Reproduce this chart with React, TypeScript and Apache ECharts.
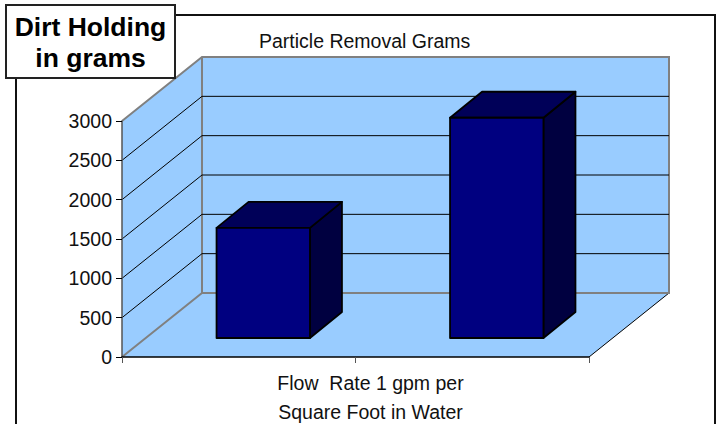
import React, { useEffect, useRef } from "react";
import * as echarts from "echarts";

const categories = ["", ""];
const particleRemovalGrams = [1400, 2800];
const gridValues = [0, 500, 1000, 1500, 2000, 2500, 3000];
const chartTitle = "Particle Removal Grams";
const boxTitleLines = ["Dirt Holding", "in grams"];
const xAxisTitle = "Flow  Rate 1 gpm per\nSquare Foot in Water";

const FONT = '"Liberation Sans", Arial, sans-serif';
const WALL = "#99CCFF";
const EDGE = "#808080";
const FRONT = "#000080";
const TOP = "#000058";
const SIDE = "#000040";
const DEPTH_X = 80;
const DEPTH_Y = -64;

export default function App() {
  const ref = useRef<HTMLDivElement>(null);
  useEffect(() => {
    document.body.style.margin = "0";
    const chart = echarts.init(ref.current!, undefined, { renderer: "svg" });

    const renderWalls = (params: any, api: any) => {
      const cs = params.coordSys;
      const v = api.value(1);
      const y = api.coord([0, v])[1];
      const l = cs.x, r = cs.x + cs.width, t = cs.y, b = cs.y + cs.height;
      const dx = DEPTH_X, dy = DEPTH_Y;
      const children: any[] = [];
      const line = (points: number[][], stroke: string, lineWidth: number) => ({
        type: "polyline",
        shape: { points },
        style: { fill: "none", stroke, lineWidth },
      });
      if (params.dataIndex === 0) {
        const fill = (points: number[][]) => ({ type: "polygon", shape: { points }, style: { fill: WALL } });
        children.push(fill([[l + dx, t + dy], [r + dx, t + dy], [r + dx, b + dy], [l + dx, b + dy]]));
        children.push(fill([[l, t], [l + dx, t + dy], [l + dx, b + dy], [l, b]]));
        children.push(fill([[l, b], [l + dx, b + dy], [r + dx, b + dy], [r, b]]));
        children.push(line([[r, b], [r + dx, b + dy]], "#000", 1));
        children.push(line([[l, b], [l + dx, b + dy], [r + dx, b + dy], [r + dx, t + dy], [l + dx, t + dy], [l, t]], EDGE, 2));
        children.push(line([[l + dx, t + dy], [l + dx, b + dy]], EDGE, 2));
      } else if (v < 3000) {
        children.push(line([[l, y], [l + dx, y + dy], [r + dx, y + dy]], "#000", 1));
      }
      return { type: "group", children };
    };

    const renderBar = (_params: any, api: any) => {
      const idx = api.value(0);
      const top = api.coord([idx, api.value(1)]);
      const base = api.coord([idx, 0]);
      const w = api.size([1, 0])[0] * 0.4;
      const fx = 24.5, fy = -19, bx = 56.5, by = -45;
      const x0 = top[0] - w / 2 + fx, x1 = top[0] + w / 2 + fx;
      const yt = top[1] + fy, yb = base[1] + fy;
      const ddx = bx - fx, ddy = by - fy;
      const style = (fill: string) => ({ fill, stroke: "#000", lineWidth: 1.8, lineJoin: "round" });
      return {
        type: "group",
        children: [
          { type: "polygon", shape: { points: [[x1, yt], [x1 + ddx, yt + ddy], [x1 + ddx, yb + ddy], [x1, yb]] }, style: style(SIDE) },
          { type: "polygon", shape: { points: [[x0, yt], [x0 + ddx, yt + ddy], [x1 + ddx, yt + ddy], [x1, yt]] }, style: style(TOP) },
          { type: "polygon", shape: { points: [[x0, yt], [x1, yt], [x1, yb], [x0, yb]] }, style: style(FRONT) },
        ],
      };
    };

    chart.setOption({
      animation: false,
      backgroundColor: "#fff",
      title: {
        text: chartTitle,
        left: 259,
        top: 31,
        padding: 0,
        textStyle: { fontFamily: FONT, fontSize: 19.5, fontWeight: "normal", color: "#111" },
      },
      grid: { left: 122, top: 121, width: 467, height: 236, outerBoundsMode: "none", containLabel: false },
      xAxis: {
        type: "category",
        data: categories,
        z: 10,
        name: xAxisTitle,
        nameLocation: "middle",
        nameGap: 11,
        nameTextStyle: {
          fontFamily: FONT,
          fontSize: 19.5,
          color: "#111",
          lineHeight: 29,
          padding: [0, 0, 0, 30],
          verticalAlign: "top",
        },
        axisLine: { lineStyle: { color: "#000", width: 1.5 } },
        axisTick: { show: true, alignWithLabel: false, length: 6, lineStyle: { color: "#555", width: 1 } },
        axisLabel: { show: false },
        splitLine: { show: false },
      },
      yAxis: {
        type: "value",
        min: 0,
        max: 3000,
        interval: 500,
        z: 10,
        axisLine: { show: true, lineStyle: { color: "#555", width: 1.5 } },
        axisTick: { show: true, length: 6, lineStyle: { color: "#000", width: 1 } },
        axisLabel: { fontFamily: FONT, fontSize: 19.5, color: "#111", margin: 10, formatter: (v: number) => String(v) },
        splitLine: { show: false },
      },
      series: [
        {
          type: "custom",
          silent: true,
          z: 1,
          renderItem: renderWalls,
          data: gridValues.map((v) => [0, v]),
          encode: { x: 0, y: 1 },
        },
        {
          type: "custom",
          silent: true,
          z: 2,
          renderItem: renderBar,
          data: particleRemovalGrams.map((v, i) => [i, v]),
          encode: { x: 0, y: 1 },
        },
      ],
      graphic: [
        {
          type: "rect",
          z: -1,
          shape: { x: 16, y: 15, width: 699, height: 420 },
          style: { fill: "none", stroke: "#111", lineWidth: 2 },
        },
        {
          type: "rect",
          z: 100,
          shape: { x: 6, y: 5, width: 169, height: 73 },
          style: { fill: "#fff", stroke: "#222", lineWidth: 2 },
        },
        {
          type: "text",
          z: 101,
          x: 90.5,
          y: 42,
          style: {
            text: boxTitleLines.join("\n"),
            fill: "#000",
            font: `bold 26.5px ${FONT}`,
            lineHeight: 31,
            align: "center",
            verticalAlign: "middle",
          },
        },
      ],
    });
    return () => chart.dispose();
  }, []);
  return <div ref={ref} style={{ position: "absolute", left: 0, top: 0, width: 719, height: 424 }} />;
}
